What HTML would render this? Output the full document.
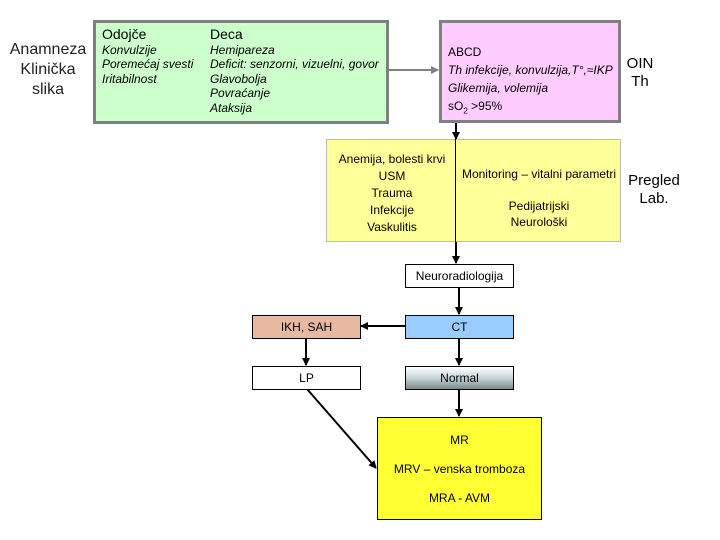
<!DOCTYPE html>
<html><head><meta charset="utf-8"><style>
body{margin:0;width:720px;height:540px;background:#fff;position:relative;overflow:hidden;font-family:"Liberation Sans",sans-serif;}
.a{position:absolute;}
.b{position:absolute;box-sizing:border-box;border:1px solid #000;font-size:12px;text-align:center;}
i{font-style:italic}
</style></head><body>
<svg class="a" style="left:0;top:0" width="720" height="540">
<defs><marker id="m" markerWidth="8" markerHeight="8" refX="7" refY="4" orient="auto" markerUnits="userSpaceOnUse"><path d="M0,0L8,4L0,8z" fill="#000"/></marker>
<marker id="g" markerWidth="8" markerHeight="8" refX="7" refY="4" orient="auto" markerUnits="userSpaceOnUse"><path d="M0,0L8,4L0,8z" fill="#808080"/></marker></defs>
<line x1="388" y1="70" x2="438" y2="70" stroke="#808080" stroke-width="2" marker-end="url(#g)"/>
<line x1="456" y1="123" x2="456" y2="139" stroke="#000" stroke-width="2" marker-end="url(#m)"/>
<line x1="456" y1="241" x2="456" y2="263" stroke="#000" stroke-width="2" marker-end="url(#m)"/>
<line x1="459" y1="287" x2="459" y2="314" stroke="#000" stroke-width="2" marker-end="url(#m)"/>
<line x1="405" y1="326" x2="361" y2="326" stroke="#000" stroke-width="2" marker-end="url(#m)"/>
<line x1="459" y1="338" x2="459" y2="365" stroke="#000" stroke-width="2" marker-end="url(#m)"/>
<line x1="306" y1="338" x2="306" y2="365" stroke="#000" stroke-width="2" marker-end="url(#m)"/>
<line x1="459" y1="389" x2="459" y2="416" stroke="#000" stroke-width="2" marker-end="url(#m)"/>
<line x1="307" y1="389" x2="376" y2="468" stroke="#000" stroke-width="2" marker-end="url(#m)"/>
</svg>
<div class="a" style="left:6px;top:40px;width:84px;text-align:center;font-size:16px;line-height:20px;color:#222">Anamneza<br>Klinička<br>slika</div>
<div class="b" style="left:93px;top:20px;width:296px;height:104px;background:#ccffcc;border:3px solid #808080;text-align:left;font-size:12px;line-height:14.5px;">
<div class="a" style="left:6px;top:4px"><span style="font-size:14px">Odojče</span><br><i>Konvulzije<br>Poremećaj svesti<br>Iritabilnost</i></div>
<div class="a" style="left:114px;top:4px"><span style="font-size:14px">Deca</span><br><i>Hemipareza<br>Deficit: senzorni, vizuelni, govor<br>Glavobolja<br>Povraćanje<br>Ataksija</i></div>
</div>
<div class="b" style="left:439px;top:20px;width:182px;height:103px;background:#ffccff;border:3px solid #808080;text-align:left;font-size:12px;line-height:18px;padding:20px 0 0 6px;">ABCD<br><i>Th infekcije, konvulzija,T°,≈IKP<br>Glikemija, volemija</i><br>sO<sub style="font-size:8px">2</sub> &gt;95%</div>
<div class="a" style="left:620px;top:55px;width:40px;text-align:center;font-size:15px;line-height:18px">OIN<br>Th</div>
<div class="b" style="left:326px;top:139px;width:295px;height:103px;background:#ffff99;border-color:#bbb"></div>
<div class="a" style="left:455px;top:139px;width:1px;height:103px;background:#000"></div>
<div class="a" style="left:330px;top:151px;width:124px;text-align:center;font-size:12px;line-height:17px">Anemija, bolesti krvi<br>USM<br>Trauma<br>Infekcije<br>Vaskulitis</div>
<div class="a" style="left:458px;top:166px;width:162px;text-align:center;font-size:12px;line-height:16px">Monitoring – vitalni parametri<br><br>Pedijatrijski<br>Neurološki</div>
<div class="a" style="left:620px;top:172px;width:68px;text-align:center;font-size:15px;line-height:18px">Pregled<br>Lab.</div>
<div class="b" style="left:405px;top:264px;width:109px;height:24px;background:#fff;line-height:22px">Neuroradiologija</div>
<div class="b" style="left:405px;top:315px;width:109px;height:24px;background:#99ccff;line-height:22px">CT</div>
<div class="b" style="left:252px;top:315px;width:109px;height:24px;background:#e6b9a0;line-height:22px">IKH, SAH</div>
<div class="b" style="left:252px;top:366px;width:109px;height:24px;background:#fff;line-height:22px">LP</div>
<div class="b" style="left:405px;top:366px;width:109px;height:24px;background:linear-gradient(#fff,#c8d4d8 50%,#7a8a8e);line-height:22px">Normal</div>
<div class="b" style="left:377px;top:417px;width:165px;height:103px;background:#ffff33;line-height:29px;padding-top:8px;font-size:12px">MR<br>MRV – venska tromboza<br>MRA - AVM</div>
</body></html>
